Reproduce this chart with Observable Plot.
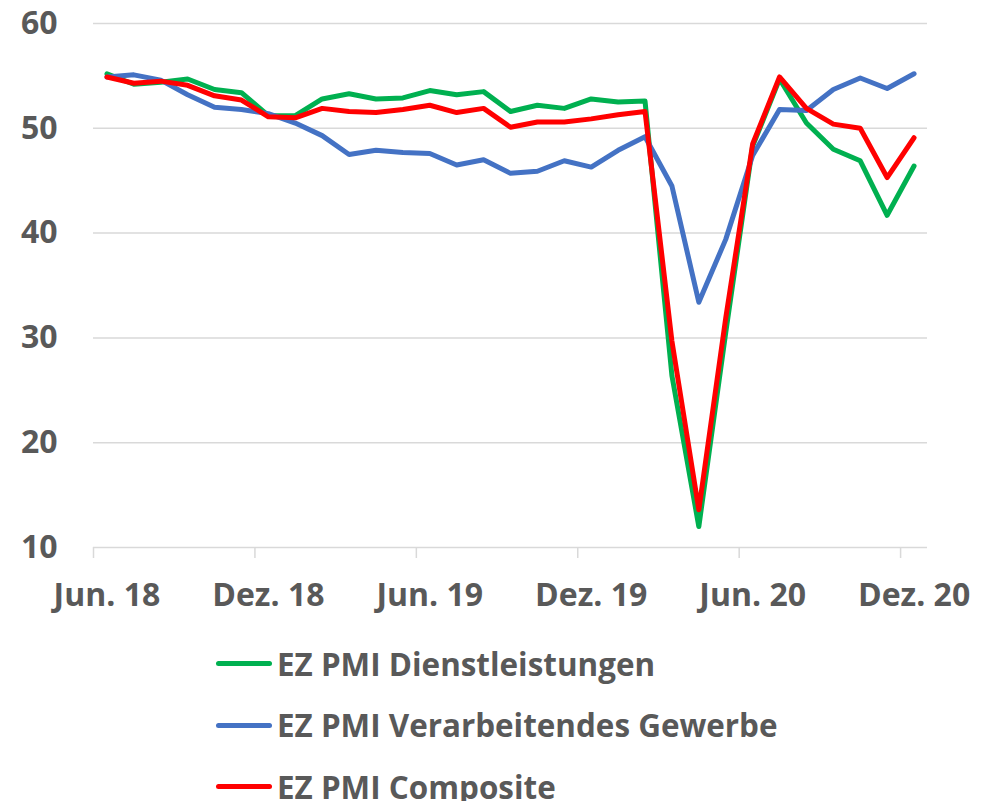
<!DOCTYPE html>
<html>
<head>
<meta charset="utf-8">
<script src="https://cdn.jsdelivr.net/npm/d3@7"></script>
<script src="https://cdn.jsdelivr.net/npm/@observablehq/plot@0.6"></script>
<style>
  html, body { margin: 0; padding: 0; background: #ffffff; }
  body { width: 995px; height: 801px; overflow: hidden; font-family: "Open Sans", sans-serif; font-weight: 700; color: #595959; }
  #legend { padding-left: 216px; margin-top: 3px; }
  .row { display: flex; align-items: center; height: 61.5px; }
  .sw { width: 56px; height: 5px; border-radius: 3px; margin-right: 5px; flex: none; }
  .lbl { font-size: 31.4px; line-height: 32px; white-space: nowrap; }
</style>
</head>
<body>
<div id="chart"></div>
<div id="legend"></div>
<script>
// Monthly categories Jun 2018 .. Dec 2020 (31 months)
const months = [
  "2018-06","2018-07","2018-08","2018-09","2018-10","2018-11","2018-12",
  "2019-01","2019-02","2019-03","2019-04","2019-05","2019-06","2019-07","2019-08","2019-09","2019-10","2019-11","2019-12",
  "2020-01","2020-02","2020-03","2020-04","2020-05","2020-06","2020-07","2020-08","2020-09","2020-10","2020-11","2020-12"
];
const services = [55.2,54.2,54.4,54.7,53.7,53.4,51.2,51.2,52.8,53.3,52.8,52.9,53.6,53.2,53.5,51.6,52.2,51.9,52.8,52.5,52.6,26.4,12.0,30.5,48.3,54.7,50.5,48.0,46.9,41.7,46.4];
const manufacturing = [54.9,55.1,54.6,53.2,52.0,51.8,51.4,50.5,49.3,47.5,47.9,47.7,47.6,46.5,47.0,45.7,45.9,46.9,46.3,47.9,49.2,44.5,33.4,39.4,47.4,51.8,51.7,53.7,54.8,53.8,55.2];
const composite = [54.9,54.3,54.5,54.1,53.1,52.7,51.1,51.0,51.9,51.6,51.5,51.8,52.2,51.5,51.9,50.1,50.6,50.6,50.9,51.3,51.6,29.7,13.6,31.9,48.5,54.9,51.9,50.4,50.0,45.3,49.1];
const seriesNames = ["EZ PMI Dienstleistungen","EZ PMI Verarbeitendes Gewerbe","EZ PMI Composite"];
const seriesColors = ["#00b050","#4472c4","#ff0000"];
const xTickIndex = [0,6,12,18,24,30];
const xTickLabels = ["Jun. 18","Dez. 18","Jun. 19","Dez. 19","Jun. 20","Dez. 20"];
const yTicks = [10,20,30,40,50,60];

const seriesValues = [services, manufacturing, composite];
const rows = [];
seriesValues.forEach((vals, s) => vals.forEach((v, i) => rows.push({series: seriesNames[s], i, month: months[i], value: v})));
const labelPos = xTickIndex.map(i => i + 0.5);

const chart = Plot.plot({
  width: 995,
  height: 630,
  marginTop: 23,
  marginBottom: 83,
  marginLeft: 93,
  marginRight: 68,
  style: {fontFamily: "'Open Sans', sans-serif", fontWeight: 700, fontSize: "32px", overflow: "visible", background: "#ffffff"},
  x: {type: "linear", domain: [0, months.length]},
  y: {domain: [10, 60]},
  color: {domain: seriesNames, range: seriesColors},
  marks: [
    Plot.gridY(yTicks.slice(1), {stroke: "#d9d9d9", strokeOpacity: 1, strokeWidth: 1.5}),
    Plot.ruleY([10], {stroke: "#d9d9d9", strokeWidth: 1.5}),
    Plot.axisY({ticks: yTicks, tickSize: 0, tickPadding: 36, fill: "#595959", label: null, fontSize: 32}),
    Plot.axisX({ticks: xTickIndex, tickSize: 11, stroke: "#d9d9d9", strokeWidth: 1.5, tickFormat: () => "", label: null}),
    Plot.axisX({ticks: labelPos, tickSize: 0, tickPadding: 36, fill: "#595959",
      tickFormat: d => xTickLabels[labelPos.indexOf(d)], label: null, fontSize: 32}),
    Plot.line(rows, {x: d => d.i + 0.5, y: "value", z: "series", stroke: "series",
      strokeWidth: 5, strokeLinejoin: "round", strokeLinecap: "round"})
  ]
});
document.getElementById("chart").appendChild(chart);

const legend = document.getElementById("legend");
seriesNames.forEach((name, k) => {
  const row = document.createElement("div");
  row.className = "row";
  const sw = document.createElement("div");
  sw.className = "sw";
  sw.style.background = seriesColors[k];
  const lbl = document.createElement("div");
  lbl.className = "lbl";
  lbl.textContent = name;
  row.appendChild(sw);
  row.appendChild(lbl);
  legend.appendChild(row);
});
</script>
</body>
</html>
